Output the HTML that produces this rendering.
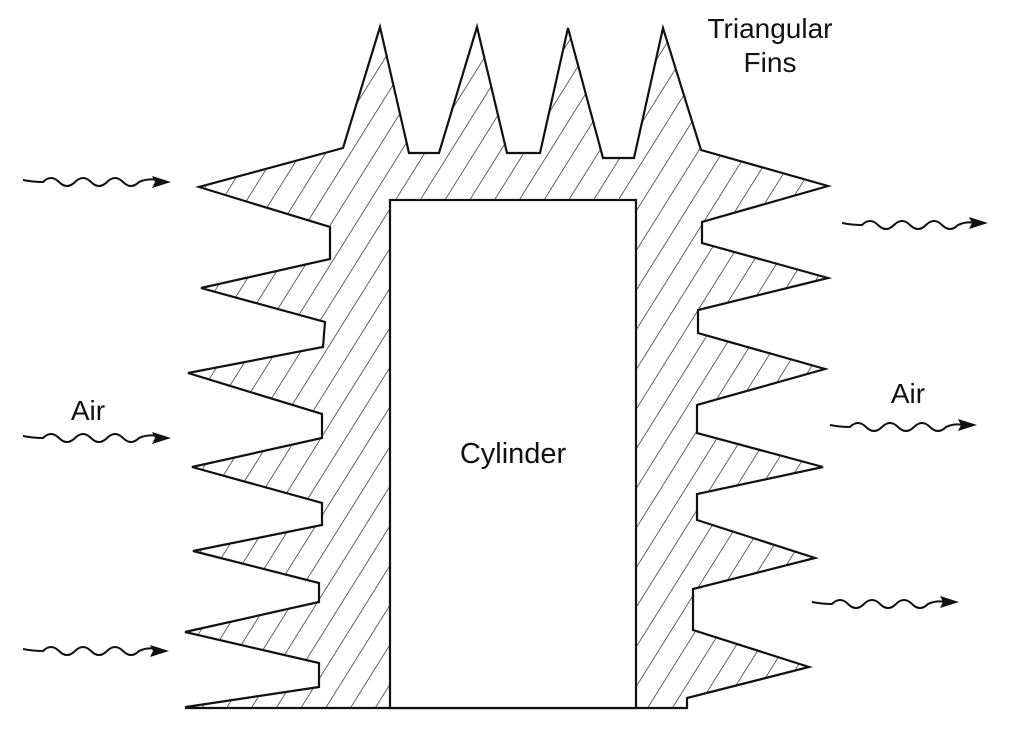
<!DOCTYPE html>
<html><head><meta charset="utf-8"><style>
html,body{margin:0;padding:0;background:#fff;}
svg{display:block;}
text{font-family:"Liberation Sans",sans-serif;fill:#111;}
</style></head><body>
<svg width="1024" height="732" viewBox="0 0 1024 732" xmlns="http://www.w3.org/2000/svg">
<defs>
<pattern id="h" width="21" height="21" patternUnits="userSpaceOnUse" patternTransform="rotate(32)">
<line x1="0" y1="0" x2="0" y2="21" stroke="#111" stroke-width="1.3"/>
</pattern>
</defs>
<polygon fill="url(#h)" stroke="#111" stroke-width="2.2" stroke-linejoin="miter"
points="343,148 380,27 409,153 439,153 477,27 507,153 540,153 568,28 603,158 634,158 663,28 701,150 828,186 702,222 702,243 828,278 698,310 698,333 825,369 697,405 697,433 823,467 697,494 697,520 815,558 693,589 693,630 809,667 687,698 687,708 186,708 186,707 319,687 319,663 185,632 319,602 319,583 193,551 322,525 322,503 192,467 322,438 322,414 188,373 323,347 325,322 201,288 330,259 330,227 199,187"/>
<rect x="390" y="200" width="246" height="508" fill="#fff" stroke="#111" stroke-width="2.2"/>
<text x="513" y="463" font-size="29" text-anchor="middle">Cylinder</text>
<text x="770" y="38" font-size="28" text-anchor="middle">Triangular</text>
<text x="770" y="72" font-size="28" text-anchor="middle">Fins</text>
<text x="88" y="420" font-size="28" text-anchor="middle">Air</text>
<text x="908" y="403" font-size="28" text-anchor="middle">Air</text>
<g fill="none" stroke="#111" stroke-width="2">
<path d="M23,180 q10,2 20,2 q8,-8 16,0 t16,0 t16,0 t16,0 t16,0 t16,0 q8,-4 20,-2"/>
<path d="M23,436 q10,2 20,2 q8,-8 16,0 t16,0 t16,0 t16,0 t16,0 t16,0 q8,-4 20,-2"/>
<path d="M23,649 q10,2 20,2 q8,-8 16,0 t16,0 t16,0 t16,0 t16,0 t16,0 q8,-4 18,-2"/>
<path d="M842,223 q10,2 20,2 q8,-8 16,0 t16,0 t16,0 t16,0 t16,0 t16,0 q8,-4 18,-2"/>
<path d="M830,425 q10,2 20,2 q8,-8 16,0 t16,0 t16,0 t16,0 t16,0 t16,0 q8,-4 18,-2"/>
<path d="M812,602 q10,2 20,2 q8,-8 16,0 t16,0 t16,0 t16,0 t16,0 t16,0 q8,-4 18,-2"/>
</g>
<g fill="#111">
<polygon points="171,182 152,176 155,182 152,188"/>
<polygon points="171,438 152,432 155,438 152,444"/>
<polygon points="169,651 150,645 153,651 150,657"/>
<polygon points="988,223 969,217 972,223 969,229"/>
<polygon points="977,425 958,419 961,425 958,431"/>
<polygon points="959,602 940,596 943,602 940,608"/>
</g>
</svg>
</body></html>
